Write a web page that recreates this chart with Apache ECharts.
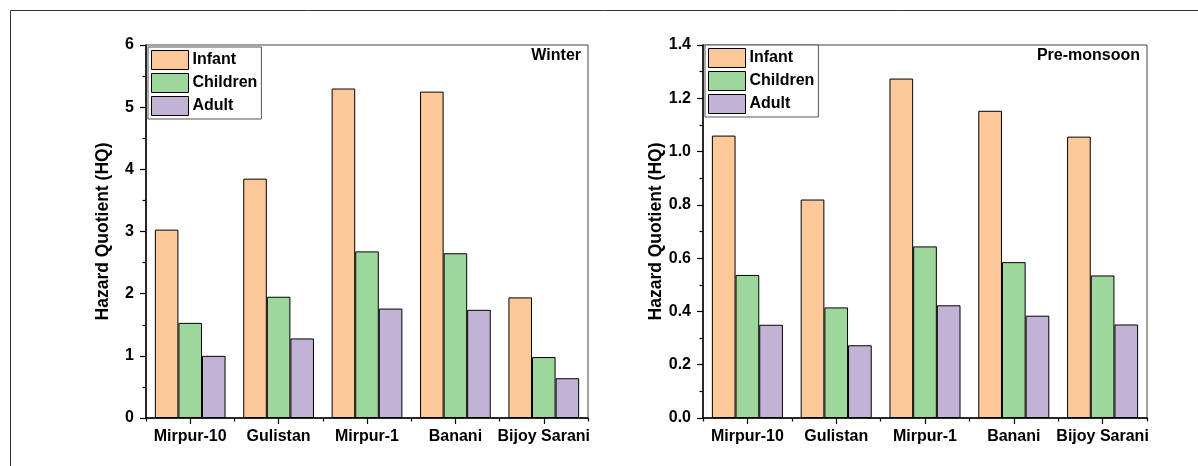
<!DOCTYPE html>
<html>
<head>
<meta charset="utf-8">
<script src="https://cdn.jsdelivr.net/npm/echarts@6/dist/echarts.min.js"></script>
<style>
html,body{margin:0;padding:0;background:#fff;}
#c{width:1198px;height:466px;}
</style>
</head>
<body>
<div id="c"></div>
<script>
const categories = ['Mirpur-10', 'Gulistan', 'Mirpur-1', 'Banani', 'Bijoy Sarani'];
const seriesNames = ['Infant', 'Children', 'Adult'];
const winterInfant = [3.03, 3.85, 5.30, 5.25, 1.94];
const winterChildren = [1.53, 1.95, 2.68, 2.65, 0.98];
const winterAdult = [1.00, 1.28, 1.76, 1.74, 0.64];
const preInfant = [1.060, 0.820, 1.274, 1.153, 1.056];
const preChildren = [0.537, 0.415, 0.644, 0.585, 0.535];
const preAdult = [0.350, 0.273, 0.423, 0.384, 0.351];
const panelTitles = ['Winter', 'Pre-monsoon'];
const yLabel = 'Hazard Quotient (HQ)';

const colors = ['#FDC998', '#9ED79C', '#C2B2D6'];
const FONT = 'Liberation Sans, Arial, sans-serif';

const chart = echarts.init(document.getElementById('c'), null, {renderer: 'canvas'});

function xAxes(gridIndex) {
  return [
    {
      type: 'category', gridIndex, data: categories,
      axisLine: {lineStyle: {color: '#000', width: 1.5}},
      axisTick: {show: true, alignWithLabel: true, length: 6, lineStyle: {color: '#000', width: 1.2}},
      axisLabel: {color: '#000', fontFamily: FONT, fontWeight: 'bold', fontSize: 16, margin: 11, interval: 0}
    },
    {
      type: 'category', gridIndex, data: categories, position: 'bottom',
      axisLine: {show: false},
      axisTick: {show: true, alignWithLabel: false, length: 3.5, lineStyle: {color: '#000', width: 1.2}},
      axisLabel: {show: false}
    }
  ];
}

function yAxis(gridIndex, max, interval, fmt) {
  return {
    type: 'value', gridIndex, min: 0, max, interval,
    name: yLabel, nameLocation: 'middle', nameGap: 34, nameRotate: 90,
    nameTextStyle: {color: '#000', fontFamily: FONT, fontWeight: 'bold', fontSize: 17.5},
    axisLine: {show: true, lineStyle: {color: '#000', width: 1.5}},
    axisTick: {show: true, length: 6, lineStyle: {color: '#000', width: 1.2}},
    minorTick: {show: true, splitNumber: 2, length: 3.5, lineStyle: {color: '#000', width: 1.2}},
    splitLine: {show: false},
    axisLabel: {color: '#000', fontFamily: FONT, fontWeight: 'bold', fontSize: 16, margin: 12, formatter: fmt}
  };
}

function bars(name, data, idx, xi, yi) {
  return {
    type: 'bar', name, data, xAxisIndex: xi, yAxisIndex: yi,
    barGap: '0%', barCategoryGap: '20%',
    itemStyle: {color: colors[idx], borderColor: '#000', borderWidth: 1},
    emphasis: {disabled: true},
    animation: false
  };
}

const legendCommon = {
  orient: 'vertical', icon: 'rect', itemWidth: 37, itemHeight: 19, itemGap: 3,
  backgroundColor: '#fff', borderColor: '#555', borderWidth: 1, padding: [3, 4, 3, 3],
  textStyle: {color: '#000', fontFamily: FONT, fontWeight: 'bold', fontSize: 16, padding: [0, 0, 0, -1]},
  itemStyle: {borderColor: '#000', borderWidth: 1},
  data: seriesNames, selectedMode: false
};

chart.setOption({
  animation: false,
  backgroundColor: '#fff',
  graphic: [{
    type: 'rect', shape: {x: 10.5, y: 10.5, width: 1400, height: 800},
    style: {fill: 'none', stroke: '#333', lineWidth: 1}, silent: true
  }],
  title: [
    {text: panelTitles[0], right: 617, top: 48, padding: 0,
     textStyle: {color: '#000', fontFamily: FONT, fontWeight: 'bold', fontSize: 16}},
    {text: panelTitles[1], right: 58, top: 48, padding: 0,
     textStyle: {color: '#000', fontFamily: FONT, fontWeight: 'bold', fontSize: 16}}
  ],
  legend: [
    Object.assign({}, legendCommon, {left: 148, top: 47}),
    Object.assign({}, legendCommon, {left: 705, top: 45})
  ],
  grid: [
    {left: 146, right: 610, top: 45, bottom: 48, show: true, borderColor: '#444', borderWidth: 1, backgroundColor: 'transparent'},
    {left: 703, right: 51, top: 45, bottom: 48, show: true, borderColor: '#444', borderWidth: 1, backgroundColor: 'transparent'}
  ],
  xAxis: xAxes(0).concat(xAxes(1)),
  yAxis: [
    yAxis(0, 6, 1, v => String(v)),
    yAxis(1, 1.4, 0.2, v => v.toFixed(1))
  ],
  series: [
    bars(seriesNames[0], winterInfant, 0, 0, 0),
    bars(seriesNames[1], winterChildren, 1, 0, 0),
    bars(seriesNames[2], winterAdult, 2, 0, 0),
    bars(seriesNames[0], preInfant, 0, 2, 1),
    bars(seriesNames[1], preChildren, 1, 2, 1),
    bars(seriesNames[2], preAdult, 2, 2, 1)
  ]
});
</script>
</body>
</html>
